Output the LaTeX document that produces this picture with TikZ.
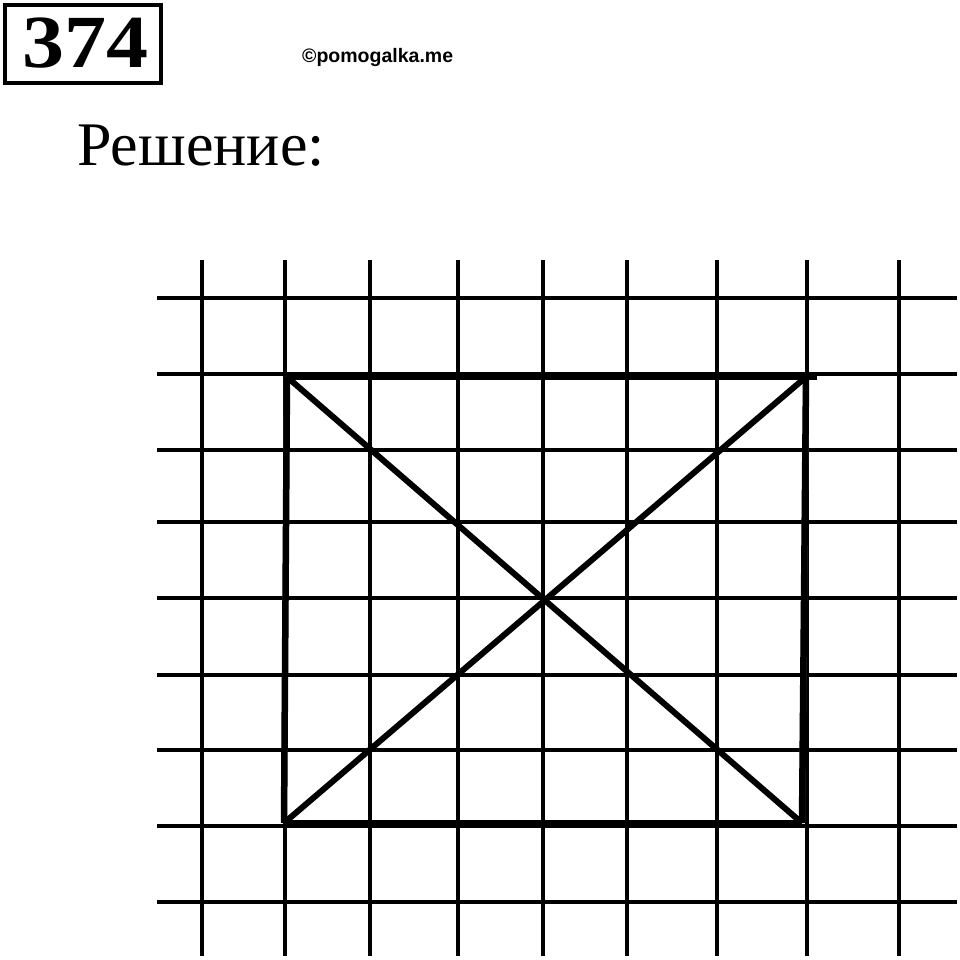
\documentclass[tikz,border=0pt]{standalone}
\usepackage{fontspec}
\setmainfont{Liberation Serif}
\newfontfamily\wmfont{Liberation Sans}
\begin{document}
\begin{tikzpicture}[x=1pt,y=-1pt,
  gridline/.style={line width=3.2pt,black},
  edgehalo/.style={line width=6pt,black!40},
  edgeline/.style={line width=6.5pt,black},
  diagline/.style={line width=6pt,black}]
\useasboundingbox[fill=white] (0,0) rectangle (960,960);
% header
\draw[line width=4.5pt] (5,5) rectangle (161,83);
\node[anchor=base,inner sep=0pt,xscale=1.12] (num) at (85,68) {\fontsize{75}{75}\selectfont\bfseries 374};
\node[anchor=base west,inner sep=0pt] (wm) at (302,63) {\wmfont\bfseries\fontsize{19.5}{20}\selectfont ©pomogalka.me};
\node[anchor=base west,inner sep=0pt] (sol) at (77,165) {\fontsize{62}{62}\selectfont Решение:};
% grid
\foreach \x in {202,285,370,458,543,627,717,807,899}
  \draw[gridline] (\x,260) -- (\x,956);
\foreach \y in {298,374,450,522,598,675,750,826,902}
  \draw[gridline] (157,\y) -- (957,\y);
% rectangle corners
\coordinate (A) at (287,377);
\coordinate (B) at (806,377);
\coordinate (Bx) at (817,377);
\coordinate (C) at (802,823);
\coordinate (D) at (284,823);
\draw[edgehalo,yshift=4pt] (A) -- (Bx);
\draw[edgehalo,xshift=4pt] (B) -- (C);
\draw[edgehalo,yshift=-4pt] (D) -- (C);
\draw[edgehalo,xshift=-3pt] (A) -- (D);
\draw[edgeline] (A) -- (Bx);
\draw[edgeline] (B) -- (C);
\draw[edgeline] (C) -- (D);
\draw[edgeline] (D) -- (A);
\draw[diagline] (A) -- (C);
\draw[diagline] (D) -- (B);
\end{tikzpicture}
\end{document}
